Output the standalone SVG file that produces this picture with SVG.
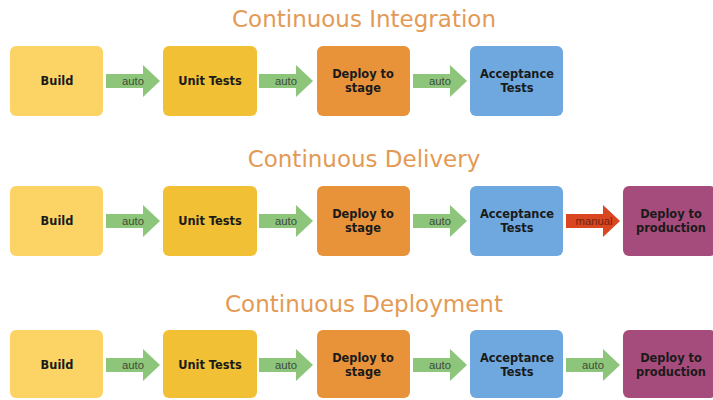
<svg xmlns="http://www.w3.org/2000/svg" width="713" height="400" viewBox="0 0 713 400">
<style>
.title{font-family:"DejaVu Sans",Verdana,sans-serif;font-size:23px;fill:#E39A55;text-anchor:middle}
.lbl{font-family:"DejaVu Sans",Verdana,sans-serif;font-weight:bold;font-size:11.4px;fill:#1a1a1a;text-anchor:middle}
.al{font-family:"Liberation Sans",Arial,sans-serif;font-size:11.3px;fill:#3e4a3a;text-anchor:middle}
.ml{font-family:"Liberation Sans",Arial,sans-serif;font-size:11.3px;fill:#6e2410;text-anchor:middle}
.b1{fill:#FCD466}.b2{fill:#F2C035}.b3{fill:#E8923A}.b4{fill:#6FA8DE}.b5{fill:#A64C7C}
.ga{fill:#8DC67B}.ra{fill:#D9461F}
</style>
<defs>
<path id="arr" d="M0,-7 H37 V-16 L54,0 L37,16 V7 H0 Z"/>
</defs>
<rect width="713" height="400" fill="#ffffff"/>
<text class="title" x="364" y="27">Continuous Integration</text>
<text class="title" x="364" y="167">Continuous Delivery</text>
<text class="title" x="364" y="312">Continuous Deployment</text>

<g id="connectors">
<use href="#arr" class="ga" x="106" y="81"/><text class="al" x="133" y="85">auto</text>
<use href="#arr" class="ga" x="259" y="81"/><text class="al" x="286" y="85">auto</text>
<use href="#arr" class="ga" x="413" y="81"/><text class="al" x="440" y="85">auto</text>

<use href="#arr" class="ga" x="106" y="221"/><text class="al" x="133" y="225">auto</text>
<use href="#arr" class="ga" x="259" y="221"/><text class="al" x="286" y="225">auto</text>
<use href="#arr" class="ga" x="413" y="221"/><text class="al" x="440" y="225">auto</text>
<use href="#arr" class="ra" x="566" y="221"/><text class="ml" x="594" y="225">manual</text>

<use href="#arr" class="ga" x="106" y="365"/><text class="al" x="133" y="369">auto</text>
<use href="#arr" class="ga" x="259" y="365"/><text class="al" x="286" y="369">auto</text>
<use href="#arr" class="ga" x="413" y="365"/><text class="al" x="440" y="369">auto</text>
<use href="#arr" class="ga" x="566" y="365"/><text class="al" x="593" y="369">auto</text>
</g>

<g id="ci-build"><rect class="b1" x="10" y="46" width="93" height="70" rx="6"/><text class="lbl" x="57" y="85">Build</text></g>
<g id="ci-unit"><rect class="b2" x="163" y="46" width="94" height="70" rx="6"/><text class="lbl" x="210" y="85">Unit Tests</text></g>
<g id="ci-stage"><rect class="b3" x="317" y="46" width="93" height="70" rx="6"/><text class="lbl" x="363" y="78">Deploy to</text><text class="lbl" x="363" y="92">stage</text></g>
<g id="ci-accept"><rect class="b4" x="470" y="46" width="93" height="70" rx="6"/><text class="lbl" x="517" y="78">Acceptance</text><text class="lbl" x="517" y="92">Tests</text></g>

<g id="cd-build"><rect class="b1" x="10" y="186" width="93" height="70" rx="6"/><text class="lbl" x="57" y="225">Build</text></g>
<g id="cd-unit"><rect class="b2" x="163" y="186" width="94" height="70" rx="6"/><text class="lbl" x="210" y="225">Unit Tests</text></g>
<g id="cd-stage"><rect class="b3" x="317" y="186" width="93" height="70" rx="6"/><text class="lbl" x="363" y="218">Deploy to</text><text class="lbl" x="363" y="232">stage</text></g>
<g id="cd-accept"><rect class="b4" x="470" y="186" width="93" height="70" rx="6"/><text class="lbl" x="517" y="218">Acceptance</text><text class="lbl" x="517" y="232">Tests</text></g>
<g id="cd-prod"><rect class="b5" x="623" y="186" width="93" height="70" rx="6"/><text class="lbl" x="671" y="218">Deploy to</text><text class="lbl" x="671" y="232">production</text></g>

<g id="cdep-build"><rect class="b1" x="10" y="330" width="93" height="68" rx="6"/><text class="lbl" x="57" y="369">Build</text></g>
<g id="cdep-unit"><rect class="b2" x="163" y="330" width="94" height="68" rx="6"/><text class="lbl" x="210" y="369">Unit Tests</text></g>
<g id="cdep-stage"><rect class="b3" x="317" y="330" width="93" height="68" rx="6"/><text class="lbl" x="363" y="362">Deploy to</text><text class="lbl" x="363" y="376">stage</text></g>
<g id="cdep-accept"><rect class="b4" x="470" y="330" width="93" height="68" rx="6"/><text class="lbl" x="517" y="362">Acceptance</text><text class="lbl" x="517" y="376">Tests</text></g>
<g id="cdep-prod"><rect class="b5" x="623" y="330" width="93" height="68" rx="6"/><text class="lbl" x="671" y="362">Deploy to</text><text class="lbl" x="671" y="376">production</text></g>
</svg>
